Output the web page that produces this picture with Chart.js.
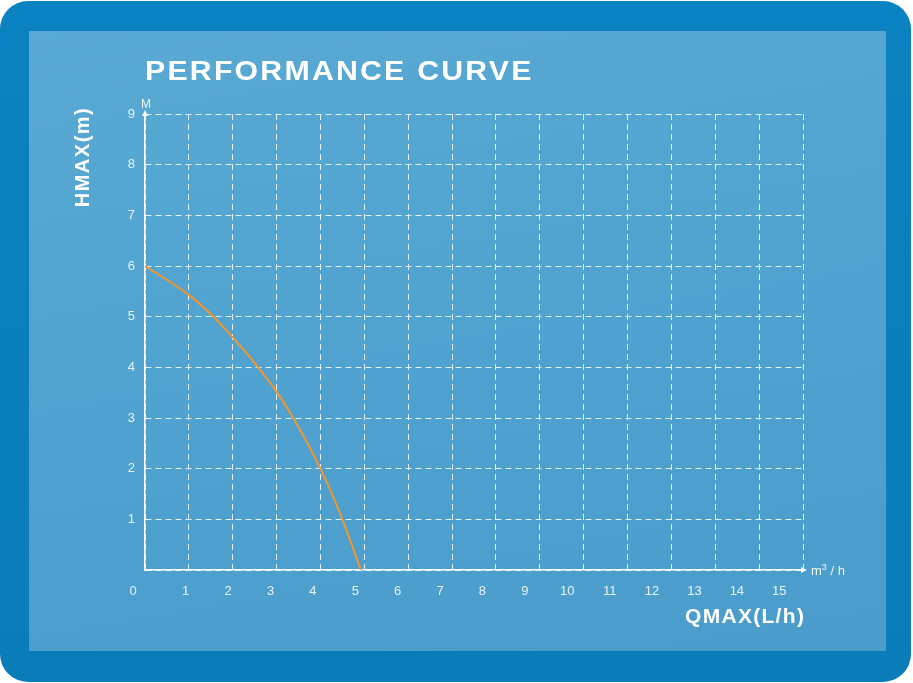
<!DOCTYPE html>
<html>
<head>
<meta charset="utf-8">
<script src="https://cdn.jsdelivr.net/npm/chart.js@4.4.1/dist/chart.umd.min.js"></script>
<style>
  html, body { margin: 0; padding: 0; background: #fff; }
  #wrap { position: relative; width: 913px; height: 683px; overflow: hidden; font-family: 'Liberation Sans', Arial, sans-serif; }
  #frame { position: absolute; left: 0; top: 1px; width: 911px; height: 681px; border-radius: 28px;
           background: linear-gradient(180deg, #0b82c1, #0a7cb9); }
  #panel { position: absolute; left: 29px; top: 31px; width: 857px; height: 620px;
           background: linear-gradient(170deg, #58aad4 0%, #4fa2cf 55%, #4a9dcb 100%); }
  canvas { position: absolute; left: 0; top: 0; }
  .txt { position: absolute; color: #fff; white-space: nowrap; line-height: 1; }
  #title { left: 145px; top: 58px; font-size: 27px; font-weight: bold; letter-spacing: 2px;
           transform: scaleX(1.12); transform-origin: left center; }
  #ytitle { left: 82px; top: 157px; font-size: 20px; font-weight: bold; letter-spacing: 1.5px;
            transform: translate(-50%, -50%) rotate(-90deg); }
  #xtitle { left: 685px; top: 605px; font-size: 21px; font-weight: bold; letter-spacing: 1.3px; }
  #yunit { left: 141px; top: 98px; font-size: 12px; color: #eef6fb; }
  #xunit { left: 811px; top: 564px; font-size: 13px; color: #eef6fb; }
  #xunit span { font-size: 9px; position: relative; top: -5px; }
</style>
</head>
<body>
<div id="wrap">
  <div id="frame"></div>
  <div id="panel"></div>
  <canvas id="chart" width="913" height="683"></canvas>
  <div class="txt" id="title">PERFORMANCE CURVE</div>
  <div class="txt" id="ytitle">HMAX(m)</div>
  <div class="txt" id="xtitle">QMAX(L/h)</div>
  <div class="txt" id="yunit">M</div>
  <div class="txt" id="xunit">m<span>3</span> / h</div>
</div>
<script>
// flow (m3/h) and head (m)
const flowValues = [0, 1, 1.56, 2, 2.58, 3, 3.38, 4, 4.5, 4.92];
const headValues = [6, 5.43, 5, 4.59, 4, 3.52, 3, 2, 1, 0];

const xTickLabels = [1, 2, 3, 4, 5, 6, 7, 8, 9, 10, 11, 12, 13, 14, 15];
const yTickLabels = [1, 2, 3, 4, 5, 6, 7, 8, 9];

const gridColor = 'rgba(255,255,255,0.85)';
const tickColor = '#e8f2f9';
const tickFont = { family: "'Liberation Sans', Arial, sans-serif", size: 13 };

// arrow heads on the axes and the origin label
const axisExtras = {
    id: 'axisExtras',
    afterDraw(chart) {
        const { ctx, scales: { x, y } } = chart;
        const x0 = x.getPixelForValue(0);
        const xEnd = x.getPixelForValue(15);
        const y0 = y.getPixelForValue(0);
        const yTop = y.getPixelForValue(9);
        ctx.save();
        ctx.fillStyle = '#fff';
        ctx.beginPath();
        ctx.moveTo(x0, yTop - 4);
        ctx.lineTo(x0 - 3, yTop + 2);
        ctx.lineTo(x0 + 3, yTop + 2);
        ctx.closePath();
        ctx.fill();
        ctx.beginPath();
        ctx.moveTo(xEnd + 4, y0);
        ctx.lineTo(xEnd - 2, y0 - 3);
        ctx.lineTo(xEnd - 2, y0 + 3);
        ctx.closePath();
        ctx.fill();
        ctx.fillStyle = tickColor;
        ctx.font = `${tickFont.size}px ${tickFont.family}`;
        ctx.textAlign = 'center';
        ctx.textBaseline = 'middle';
        ctx.fillText('0', x0 - 12, y0 + 21);
        ctx.restore();
    }
};

new Chart(document.getElementById('chart'), {
    type: 'line',
    data: {
        datasets: [{
            label: 'H',
            data: flowValues.map((q, i) => ({ x: q, y: headValues[i] })),
            borderColor: '#f4962a',
            borderWidth: 2,
            pointRadius: 0,
            fill: false,
            cubicInterpolationMode: 'monotone',
            xAxisID: 'x',
            yAxisID: 'y'
        }]
    },
    options: {
        responsive: false,
        animation: false,
        layout: { padding: { top: 114, right: 110, left: 0, bottom: 0 } },
        plugins: { legend: { display: false }, tooltip: { enabled: false } },
        scales: {
            x: {
                type: 'linear',
                position: 'bottom',
                min: 0,
                max: 15,
                ticks: { display: false, stepSize: 1 },
                grid: { color: gridColor, lineWidth: 1, drawTicks: false },
                border: { display: true, color: '#fff', width: 1.5, dash: [6, 4] },
                afterFit: s => { s.height = 0; }
            },
            x2: {
                type: 'linear',
                position: 'bottom',
                min: 0.04,
                max: 15.56,
                afterBuildTicks: s => { s.ticks = xTickLabels.map(v => ({ value: v })); },
                ticks: { color: tickColor, font: tickFont, padding: 14, autoSkip: false, maxRotation: 0 },
                grid: { display: false, drawTicks: false },
                border: { display: false },
                afterFit: s => { s.height = 113; }
            },
            y: {
                type: 'linear',
                min: 0,
                max: 9,
                afterBuildTicks: s => { s.ticks = [0].concat(yTickLabels).map(v => ({ value: v })); },
                ticks: { color: tickColor, font: tickFont, padding: 10, callback: v => v === 0 ? '' : v },
                grid: { color: gridColor, lineWidth: 1, drawTicks: false },
                border: { display: true, color: '#fff', width: 1.5, dash: [6, 4] },
                afterFit: s => { s.width = 145; }
            }
        }
    },
    plugins: [axisExtras]
});
</script>
</body>
</html>
